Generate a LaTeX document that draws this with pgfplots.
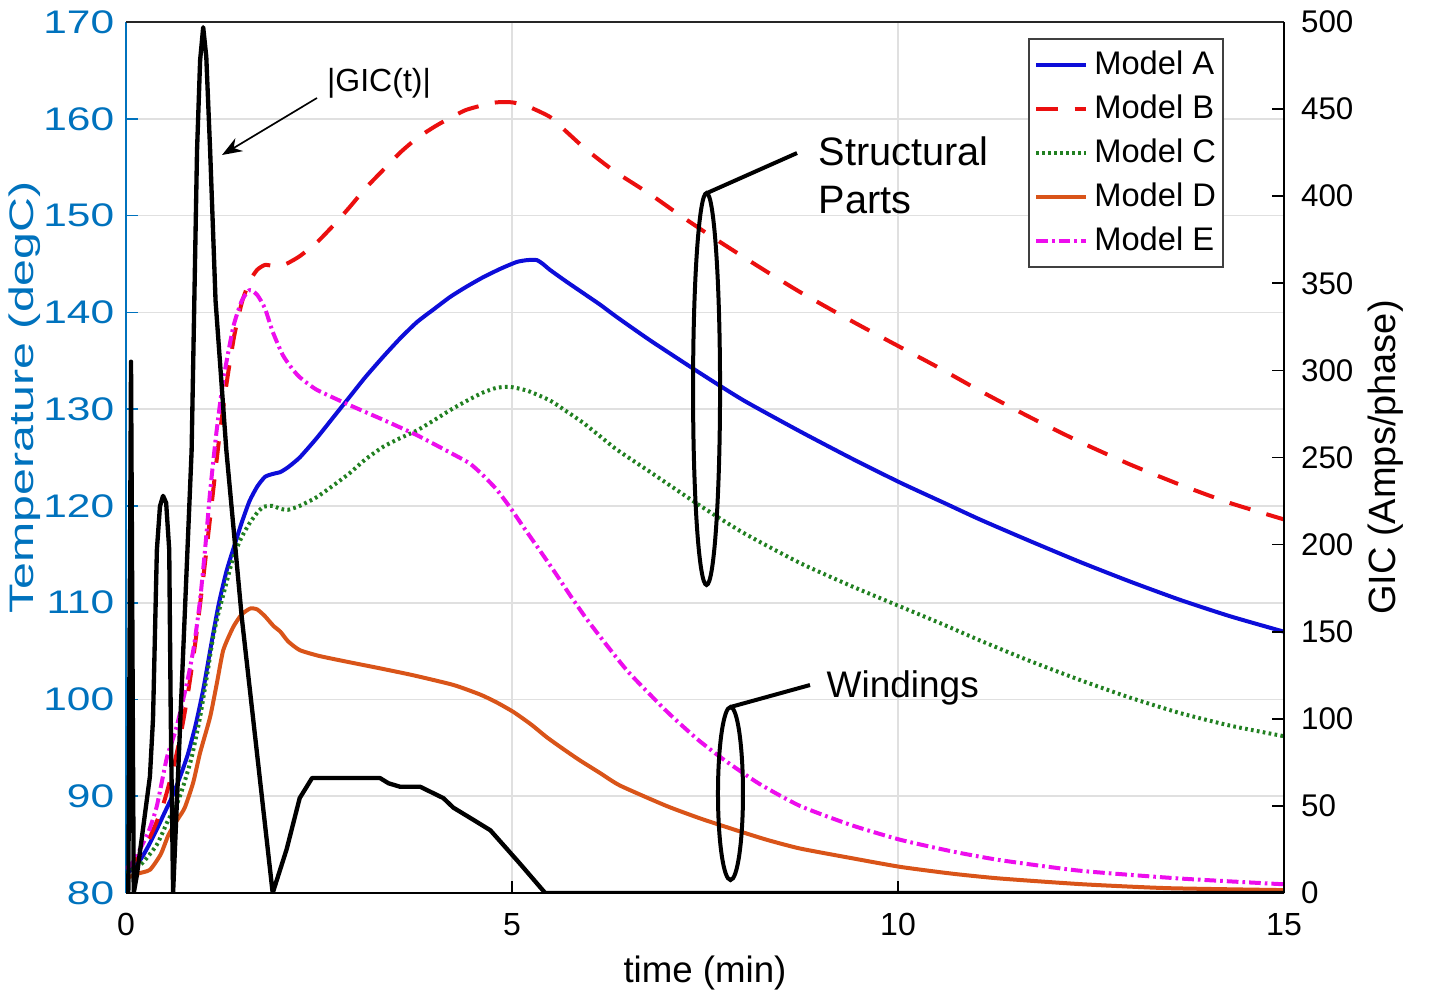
\documentclass[border=0pt]{standalone}
\usepackage{fontspec}
\setmainfont{Liberation Sans}
\usepackage{graphicx}
\usepackage{pgfplots}
\pgfplotsset{compat=1.18}
\usetikzlibrary{arrows.meta}
\definecolor{mlblue}{rgb}{0,0.447,0.741}
\definecolor{cA}{rgb}{0.05,0.05,0.85}
\definecolor{cB}{rgb}{0.92,0.06,0.06}
\definecolor{cC}{rgb}{0.13,0.5,0.13}
\definecolor{cD}{rgb}{0.85,0.33,0.1}
\definecolor{cE}{rgb}{0.93,0.05,0.93}
\begin{document}
\begin{tikzpicture}
\begin{axis}[
  name=ax,
  scale only axis, width=347.4pt, height=261.3pt,
  xmin=0, xmax=15, ymin=80, ymax=170,
  axis x line*=bottom, axis y line*=left,
  x axis line style={-, black, line width=0.6pt},
  y axis line style={-, mlblue, line width=0.6pt},
  xtick={0,5,10,15}, ytick={80,90,...,170},
  tick align=inside, major tick length=3.5pt,
  x tick style={black, line width=0.5pt},
  y tick style={mlblue, line width=0.5pt},
  grid=major, major grid style={line width=0.5pt, color=black!12},
  /pgf/number format/assume math mode=true,
  x tick label style={font=\fontsize{9.6}{11}\selectfont, yshift=-2.5pt},
  yticklabel={\scalebox{1.3}[1]{\pgfmathprintnumber{\tick}}},
  y tick label style={font=\fontsize{9.8}{11}\selectfont, text=mlblue},
  xlabel={time (min)},
  xlabel style={font=\fontsize{11}{13}\selectfont, at={(axis description cs:0.5,-0.0918)}, anchor=center},
  ylabel={\scalebox{1.42}[1]{Temperature (degC)}},
  ylabel style={font=\fontsize{10.2}{12}\selectfont, text=mlblue, at={(axis description cs:-0.0875,0.569)}, anchor=center},
  legend style={at={(axis description cs:0.948,0.9816)}, anchor=north east, draw=black!75, line width=0.5pt, fill=white,
    font=\fontsize{9.8}{11}\selectfont, row sep=0.6pt, inner xsep=0.3pt, inner ysep=1.5pt,
    nodes={inner xsep=1.8pt}},
  legend cell align=left,
  legend image code/.code={\path (-1.2pt,0pt); \draw[#1] (0pt,0pt) -- (15pt,0pt);},
  every axis plot/.append style={line width=1.2pt, line join=round},
]
\addplot[cA, smooth, tension=0.35] coordinates {
(0,82.0) (0.1,82.6) (0.2,83.6) (0.3,85.0) (0.4,86.6) (0.5,88.3) (0.6,90.0) (0.7,92.0) (0.8,94.3) (0.9,97.3)
(1.0,101.0) (1.1,105.5) (1.2,109.8) (1.3,113.2) (1.4,115.8) (1.5,118.3) (1.6,120.5) (1.7,122.0) (1.8,123.0)
(1.9,123.3) (2.0,123.5) (2.1,124.0) (2.25,125.0) (2.47,127.0) (2.7,129.3) (2.9,131.3) (3.1,133.3) (3.33,135.4)
(3.55,137.3) (3.77,139.0) (4.0,140.4) (4.2,141.6) (4.4,142.6) (4.62,143.6) (4.85,144.5) (5.06,145.2) (5.2,145.4)
(5.32,145.4) (5.4,145.0) (5.49,144.4) (5.7,143.2) (5.92,142.0) (6.14,140.8) (6.36,139.5) (6.79,137.1) (7.44,133.7)
(8.0,130.9) (8.73,127.7) (9.4,124.9) (10.03,122.4) (10.6,120.3) (11.06,118.6) (11.7,116.4) (12.36,114.2)
(13.0,112.2) (13.65,110.3) (14.3,108.6) (15,107.0)};
\addlegendentry{Model A}
\addplot[cB, dash pattern=on 6.5pt off 5pt, smooth, tension=0.35] coordinates {
(0,82.5) (0.1,83.2) (0.2,84.2) (0.3,85.6) (0.4,87.4) (0.5,89.6) (0.6,92.5) (0.7,96.0) (0.8,100.5) (0.9,106.0)
(1.0,112.5) (1.1,119.5) (1.2,126.5) (1.3,132.5) (1.4,137.5) (1.5,141.0) (1.6,143.2) (1.7,144.4) (1.8,144.9)
(1.9,144.8) (2.0,144.8) (2.1,145.1) (2.25,145.8) (2.47,147.2) (2.7,149.1) (2.9,150.9) (3.1,152.8) (3.33,154.7)
(3.55,156.5) (3.77,158.0) (4.0,159.2) (4.2,160.1) (4.4,160.9) (4.62,161.4) (4.8,161.7) (5.0,161.7) (5.2,161.3)
(5.49,160.2) (5.7,158.7) (5.92,157.1) (6.14,155.7) (6.36,154.4) (6.79,152.2) (7.2,149.9) (7.65,147.5) (8.2,144.7)
(8.73,142.1) (9.4,139.1) (10.03,136.4) (10.5,134.4) (11.06,131.9) (11.7,129.2) (12.36,126.6) (13.0,124.3)
(13.65,122.2) (14.3,120.3) (15,118.6)};
\addlegendentry{Model B}
\addplot[cC, dash pattern=on 0.8pt off 1pt, smooth, tension=0.35] coordinates {
(0,82.0) (0.2,83.0) (0.4,85.0) (0.55,87.6) (0.65,89.0) (0.74,91.0) (0.85,94.0) (0.96,98.2) (1.05,102.5) (1.13,106.5)
(1.2,109.0) (1.26,110.8) (1.39,114.7) (1.5,116.8) (1.6,118.2) (1.7,119.3) (1.78,119.9) (1.9,120.0) (2.0,119.7)
(2.1,119.6) (2.25,120.0) (2.47,120.9) (2.7,122.2) (2.9,123.4) (3.1,124.8) (3.33,126.1) (3.55,127.0) (3.77,127.8)
(4.0,128.9) (4.2,129.9) (4.4,130.8) (4.62,131.7) (4.8,132.2) (4.97,132.3) (5.2,131.9) (5.49,130.9) (5.7,129.8)
(5.92,128.6) (6.14,127.2) (6.36,125.8) (6.79,123.5) (7.44,120.0) (8.0,117.2) (8.73,114.1) (9.4,111.7) (10.03,109.6)
(10.6,107.7) (11.06,106.1) (11.7,104.0) (12.36,102.0) (13.0,100.2) (13.65,98.6) (14.3,97.3) (15,96.2)};
\addlegendentry{Model C}
\addplot[cD, smooth, tension=0.35] coordinates {
(0,81.5) (0.15,82.0) (0.31,82.4) (0.45,84.0) (0.55,86.0) (0.66,87.5) (0.76,88.8) (0.87,91.4) (0.96,94.5) (1.09,98.2)
(1.18,101.8) (1.26,105.1) (1.39,107.5) (1.5,108.8) (1.61,109.4) (1.7,109.3) (1.8,108.6) (1.91,107.6) (2.0,107.0)
(2.1,106.0) (2.25,105.1) (2.5,104.5) (2.86,103.9) (3.3,103.2) (3.72,102.5) (4.24,101.5) (4.59,100.5) (4.8,99.7)
(5.02,98.7) (5.25,97.4) (5.45,96.1) (5.66,94.9) (5.88,93.7) (6.14,92.4) (6.4,91.1) (7.0,89.0) (7.44,87.7) (7.86,86.6)
(8.3,85.5) (8.73,84.6) (9.4,83.6) (10.03,82.7) (10.7,82.0) (11.32,81.5) (12.4,80.9) (13.5,80.5) (15,80.3)};
\addlegendentry{Model D}
\addplot[cE, dash pattern=on 3.5pt off 1.2pt on 0.8pt off 1.2pt, smooth, tension=0.35] coordinates {
(0,82.5) (0.1,83.3) (0.2,84.8) (0.3,86.5) (0.4,89.0) (0.53,94.0) (0.65,97.0) (0.79,101.7) (0.88,105.5) (0.96,110.3)
(1.03,116.0) (1.09,121.5) (1.17,127.5) (1.26,133.0) (1.39,138.5) (1.5,141.2) (1.6,142.3) (1.7,141.8) (1.8,140.4)
(1.9,138.0) (2.03,135.6) (2.15,134.2) (2.25,133.3) (2.47,132.0) (2.9,130.4) (3.33,128.9) (3.77,127.3) (4.2,125.5)
(4.45,124.4) (4.62,123.2) (4.8,121.7) (4.97,119.9) (5.15,117.8) (5.36,115.4) (5.55,113.2) (5.75,110.8) (5.95,108.5)
(6.14,106.5) (6.5,102.9) (7.0,98.8) (7.4,95.9) (7.74,93.8) (8.2,91.3) (8.73,89.0) (9.4,87.0) (10.03,85.5)
(10.7,84.3) (11.32,83.4) (12.36,82.3) (13.65,81.5) (15,80.9)};
\addlegendentry{Model E}
% annotations
\draw[line width=0.5pt, -{Stealth[length=6pt,width=4.5pt]}] (axis cs:2.474,162.15) -- (axis cs:1.244,156.26);
\node[anchor=base, inner sep=0pt, font=\fontsize{9.6}{11}\selectfont] at (axis cs:3.277,162.77) {|GIC(t)|};
\draw[line width=1.2pt] (axis cs:8.692,156.46) -- (axis cs:7.526,152.33);
\draw[line width=1.2pt] (axis cs:7.52,132.08) ellipse [x radius=4.05pt, y radius=58.8pt];
\node[anchor=base west, inner sep=0pt, font=\fontsize{11.9}{14}\selectfont] at (axis cs:8.964,155.22) {Structural};
\node[anchor=base west, inner sep=0pt, font=\fontsize{11.9}{14}\selectfont] at (axis cs:8.964,150.26) {Parts};
\draw[line width=1.2pt] (axis cs:8.86,101.49) -- (axis cs:7.83,99.22);
\draw[line width=1.2pt] (axis cs:7.83,90.28) ellipse [x radius=3.75pt, y radius=25.95pt];
\node[anchor=base west, inner sep=0pt, font=\fontsize{11.1}{13}\selectfont] at (axis cs:9.067,100.25) {Windings};
\end{axis}
\begin{axis}[
  scale only axis, width=347.4pt, height=261.3pt,
  xmin=0, xmax=15, ymin=0, ymax=500,
  axis x line*=top, axis y line*=right,
  x axis line style={-, black!85, line width=0.6pt},
  y axis line style={-, black, line width=0.6pt},
  xtick=\empty, ytick={0,50,...,500},
  tick align=inside, major tick length=3.5pt,
  y tick style={black, line width=0.5pt},
  /pgf/number format/assume math mode=true,
  y tick label style={font=\fontsize{9.4}{11}\selectfont, xshift=1.6pt},
  ylabel={GIC (Amps/phase)},
  ylabel style={font=\fontsize{11.4}{13}\selectfont, at={(axis description cs:1.0881,0.5)}, anchor=center},
]
\addplot[black, line width=1.3pt, line join=round] coordinates {
(0,0) (0.03,0) (0.065,305) (0.1,0) (0.14,10) (0.2,30) (0.31,67) (0.35,100) (0.4,197) (0.44,222) (0.48,228)
(0.52,224) (0.56,197) (0.58,100) (0.61,0) (0.85,254) (0.92,426) (0.96,478) (1.0,497) (1.04,480) (1.09,426)
(1.16,340) (1.3,254) (1.5,158) (1.7,79) (1.9,0) (2.08,25) (2.25,54.5) (2.41,66) (3.29,66) (3.4,63) (3.55,61)
(3.81,61) (4.11,54.5) (4.24,49) (4.5,42) (4.72,36) (5.1,17) (5.43,0) (15,0)};
\end{axis}
\pgfresetboundingbox
\path ([shift={(-37.8pt,-32.1pt)}]ax.south west) rectangle ([shift={(44.4pt,6.6pt)}]ax.north east);
\end{tikzpicture}
\end{document}
